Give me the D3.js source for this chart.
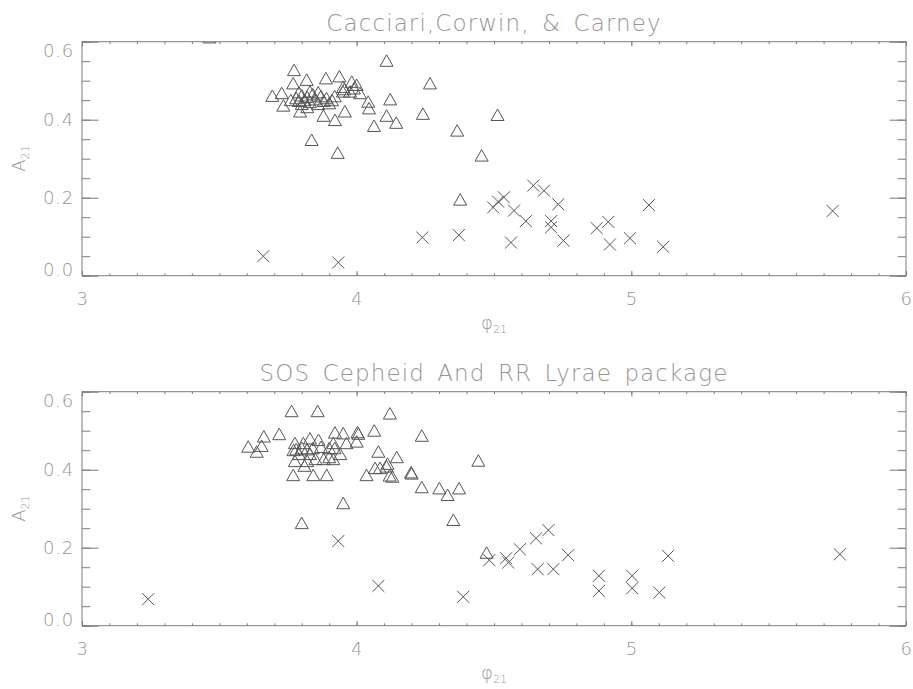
<!DOCTYPE html>
<html>
<head>
<meta charset="utf-8">
<script src="https://cdn.jsdelivr.net/npm/d3@7"></script>
<style>
    body { margin: 0; background: #fff; }
    svg text { font-family: 'DejaVu Sans', sans-serif; font-weight: 200; }
</style>
</head>
<body>
<svg id="chart" width="913" height="689"></svg>
<script>
// points are [phi21, A21]
const ccTriangles = [
    [3.464, 0.611], [3.693, 0.461], [3.727, 0.468], [3.733, 0.436], [3.769, 0.493],
    [3.772, 0.527], [3.818, 0.502], [3.888, 0.506], [3.937, 0.511], [3.982, 0.497],
    [4.000, 0.489], [3.951, 0.484], [3.950, 0.472], [3.976, 0.472], [4.012, 0.468],
    [3.955, 0.478], [3.990, 0.480],
    [3.78, 0.455], [3.79, 0.448], [3.80, 0.462], [3.81, 0.450], [3.80, 0.440],
    [3.82, 0.458], [3.83, 0.445], [3.84, 0.465], [3.85, 0.452], [3.86, 0.440],
    [3.87, 0.460], [3.88, 0.448], [3.89, 0.455], [3.90, 0.442], [3.91, 0.450],
    [3.79, 0.470], [3.83, 0.472], [3.76, 0.450], [3.82, 0.432], [3.92, 0.460],
    [3.86, 0.470],
    [3.794, 0.421], [3.836, 0.348], [3.879, 0.410], [3.921, 0.399], [3.931, 0.315],
    [3.957, 0.421], [4.042, 0.446], [4.045, 0.429], [4.063, 0.384], [4.109, 0.551],
    [4.122, 0.452], [4.109, 0.410], [4.144, 0.392], [4.241, 0.415], [4.267, 0.493],
    [4.366, 0.372], [4.377, 0.195], [4.455, 0.308], [4.513, 0.412]
]
const ccCrosses = [
    [3.660, 0.050], [3.933, 0.034], [4.239, 0.098], [4.372, 0.104], [4.497, 0.175],
    [4.515, 0.190], [4.536, 0.201], [4.573, 0.167], [4.616, 0.140], [4.562, 0.085],
    [4.643, 0.231], [4.682, 0.218], [4.734, 0.183], [4.708, 0.140], [4.708, 0.124],
    [4.753, 0.090], [4.874, 0.122], [4.916, 0.138], [4.922, 0.080], [4.995, 0.096],
    [5.064, 0.181], [5.116, 0.074], [5.733, 0.166]
]
const sosTriangles = [
    [3.605, 0.459], [3.636, 0.446], [3.654, 0.461], [3.662, 0.485], [3.718, 0.491],
    [3.763, 0.550], [3.858, 0.550], [4.121, 0.544], [4.237, 0.487], [4.064, 0.500],
    [4.003, 0.496], [4.006, 0.492], [4.000, 0.472], [4.079, 0.446], [4.146, 0.432],
    [4.112, 0.415], [4.036, 0.386], [4.067, 0.404], [4.085, 0.404], [4.109, 0.408],
    [4.120, 0.385], [4.130, 0.382], [4.198, 0.393], [4.200, 0.390], [4.237, 0.355],
    [4.301, 0.352], [4.331, 0.335], [4.373, 0.352], [4.352, 0.271], [4.443, 0.423],
    [4.473, 0.187], [3.800, 0.263], [3.951, 0.314], [3.769, 0.386], [3.842, 0.386],
    [3.891, 0.386], [3.921, 0.495], [3.951, 0.493], [3.775, 0.468], [3.806, 0.468],
    [3.830, 0.480], [3.861, 0.476], [3.915, 0.468], [3.963, 0.468],
    [3.77, 0.450], [3.78, 0.452], [3.80, 0.455], [3.82, 0.452], [3.84, 0.455],
    [3.87, 0.458], [3.90, 0.455], [3.92, 0.455],
    [3.775, 0.422], [3.82, 0.422], [3.85, 0.427], [3.88, 0.427], [3.90, 0.432],
    [3.915, 0.427], [3.94, 0.440], [3.81, 0.410], [3.83, 0.440], [3.79, 0.440]
]
const sosCrosses = [
    [3.241, 0.068], [3.933, 0.217], [4.079, 0.102], [4.388, 0.074], [4.483, 0.168],
    [4.544, 0.173], [4.552, 0.162], [4.594, 0.196], [4.653, 0.224], [4.698, 0.245],
    [4.659, 0.145], [4.716, 0.145], [4.770, 0.181], [4.882, 0.128], [4.882, 0.089],
    [5.003, 0.128], [5.003, 0.096], [5.102, 0.085], [5.134, 0.179], [5.759, 0.183]
]
const xTicks = [3, 4, 5, 6]
const yTicks = [0.0, 0.2, 0.4, 0.6]
const titles = ['Cacciari,Corwin, & Carney', 'SOS Cepheid And RR Lyrae package']

const margin = { left: 82, right: 7 }
const width = 913 - margin.left - margin.right
const height = 234
const panelTops = [41.7, 391.7]
const axisColor = '#7c7c7c'
const textColor = '#959595'
const markColor = '#555'

const x = d3.scaleLinear().domain([3, 6]).range([0, width])
const y = d3.scaleLinear().domain([0, 0.6]).range([height, 0])

const xMinor = d3.range(30, 61).map(d => d / 10)
const yMinor = d3.range(0, 13).map(d => d / 20)

const svg = d3.select('#chart')

const trianglePath = 'M-6.5,5.5L0,-6L6.5,5.5Z'
const crossPath = d3.symbol(d3.symbolX, 96)()

const drawPanel = (i, triangles, crosses) => {
    const g = svg.append('g')
        .attr('transform', `translate(${margin.left},${panelTops[i]})`)

    g.append('clipPath')
        .attr('id', `clip${i}`)
        .append('rect')
        .attr('width', width)
        .attr('height', height)

    const styleAxis = sel => {
        sel.attr('color', axisColor)
            .attr('font-size', 18)
            .attr('font-family', "'DejaVu Sans', sans-serif")
        sel.select('.domain').remove()
        sel.selectAll('line').attr('stroke-width', 1)
        sel.selectAll('text').attr('fill', textColor).attr('letter-spacing', 0.8)
    }

    // x axes, bottom and top, ticks inward
    g.append('g')
        .attr('transform', `translate(0,${height})`)
        .call(d3.axisBottom(x).tickValues(xMinor).tickSize(-2.4).tickFormat(''))
        .call(styleAxis)
    g.append('g')
        .attr('transform', `translate(0,${height})`)
        .call(d3.axisBottom(x).tickValues(xTicks).tickSizeInner(-4.7).tickSizeOuter(0)
            .tickPadding(16.5).tickFormat(d3.format('d')))
        .call(styleAxis)
    g.append('g')
        .call(d3.axisTop(x).tickValues(xMinor).tickSize(-2.4).tickFormat(''))
        .call(styleAxis)
    g.append('g')
        .call(d3.axisTop(x).tickValues(xTicks).tickSize(-4.7).tickFormat(''))
        .call(styleAxis)

    // y axes, left and right
    g.append('g')
        .call(d3.axisLeft(y).tickValues(yMinor).tickSize(-8.3).tickFormat(''))
        .call(styleAxis)
    g.append('g')
        .call(d3.axisLeft(y).tickValues(yTicks).tickSizeInner(-16.5).tickSizeOuter(0)
            .tickPadding(8).tickFormat(d3.format('.1f')))
        .call(styleAxis)
        .selectAll('.tick text')
        .attr('dy', d => d === 0.6 ? '0.82em' : d === 0 ? '0em' : '0.32em')
    g.append('g')
        .attr('transform', `translate(${width},0)`)
        .call(d3.axisRight(y).tickValues(yMinor).tickSize(-8.3).tickFormat(''))
        .call(styleAxis)
    g.append('g')
        .attr('transform', `translate(${width},0)`)
        .call(d3.axisRight(y).tickValues(yTicks).tickSize(-16.5).tickFormat(''))
        .call(styleAxis)

    g.append('rect')
        .attr('width', width)
        .attr('height', height)
        .attr('fill', 'none')
        .attr('stroke', axisColor)
        .attr('stroke-width', 1)

    const marks = g.append('g')
        .attr('clip-path', `url(#clip${i})`)
        .attr('fill', 'none')
        .attr('stroke', markColor)
        .attr('stroke-width', 1)

    marks.selectAll('path.tri')
        .data(triangles)
        .enter()
        .append('path')
        .attr('class', 'tri')
        .attr('d', trianglePath)
        .attr('transform', d => `translate(${x(d[0])},${y(d[1])})`)

    marks.selectAll('path.cross')
        .data(crosses)
        .enter()
        .append('path')
        .attr('class', 'cross')
        .attr('d', crossPath)
        .attr('transform', d => `translate(${x(d[0])},${y(d[1])})`)

    // title
    g.append('text')
        .attr('x', width / 2)
        .attr('y', -10.7)
        .attr('text-anchor', 'middle')
        .attr('font-size', 23)
        .attr('letter-spacing', 1.1)
        .attr('word-spacing', 4)
        .attr('fill', textColor)
        .text(titles[i])

    // x title: phi_21
    const xt = g.append('text')
        .attr('x', width / 2)
        .attr('y', height + 53.5)
        .attr('text-anchor', 'middle')
        .attr('font-size', 18)
        .attr('fill', textColor)
    xt.append('tspan').text('\u03c6')
    xt.append('tspan').attr('font-size', 11).attr('dy', 4).text('21')

    // y title: A_21
    const yt = g.append('text')
        .attr('transform', `translate(${25 - margin.left},${height / 2}) rotate(-90)`)
        .attr('text-anchor', 'middle')
        .attr('font-size', 18)
        .attr('fill', textColor)
    yt.append('tspan').text('A')
    yt.append('tspan').attr('font-size', 11).attr('dy', 4).text('21')
}

drawPanel(0, ccTriangles, ccCrosses)
drawPanel(1, sosTriangles, sosCrosses)
</script>
</body>
</html>
